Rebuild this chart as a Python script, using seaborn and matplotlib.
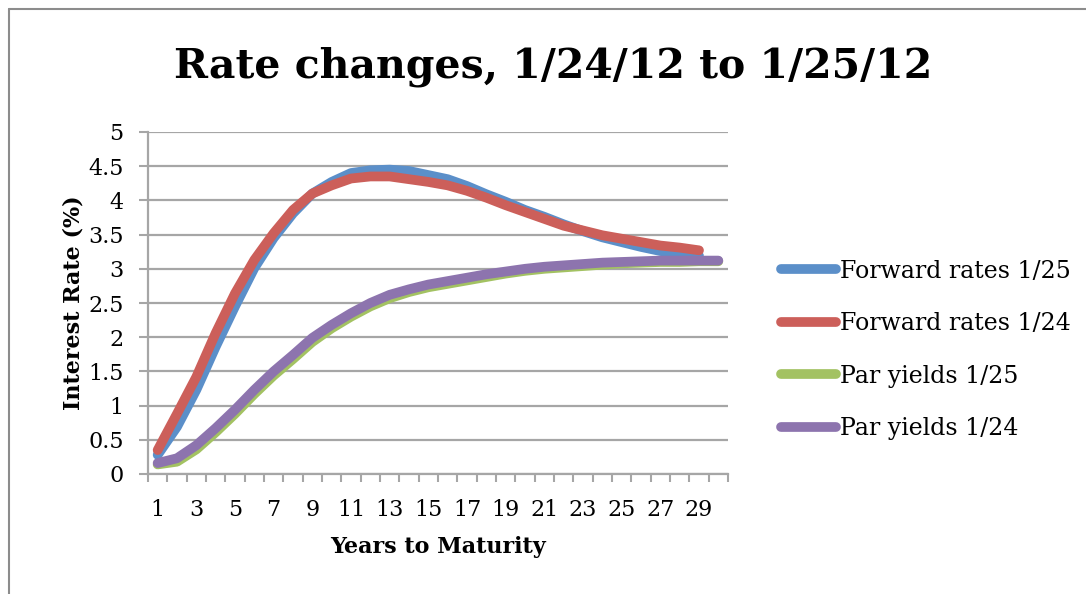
import numpy as np
import pandas as pd
import matplotlib
matplotlib.use("Agg")
import matplotlib.pyplot as plt
import seaborn as sns
from matplotlib.lines import Line2D

# values
years = list(range(1, 31))
fwd_0125 = [0.28, 0.69, 1.23, 1.86, 2.45, 3.01, 3.45, 3.81, 4.10, 4.27, 4.40, 4.44, 4.45, 4.43,
            4.37, 4.31, 4.21, 4.09, 3.98, 3.86, 3.76, 3.65, 3.55, 3.46, 3.39, 3.32, 3.26, 3.22, 3.19]
fwd_0124 = [0.35, 0.88, 1.42, 2.06, 2.64, 3.13, 3.52, 3.86, 4.10, 4.22, 4.32, 4.35, 4.35, 4.31,
            4.27, 4.22, 4.14, 4.04, 3.93, 3.83, 3.73, 3.63, 3.56, 3.49, 3.44, 3.39, 3.34, 3.31, 3.27]
par_0125 = [0.14, 0.18, 0.36, 0.61, 0.88, 1.17, 1.44, 1.68, 1.93, 2.13, 2.30, 2.45, 2.57, 2.66,
            2.73, 2.78, 2.83, 2.88, 2.93, 2.97, 3.00, 3.02, 3.04, 3.06, 3.08, 3.09, 3.10, 3.10, 3.11, 3.11]
par_0124 = [0.16, 0.23, 0.42, 0.67, 0.94, 1.23, 1.50, 1.74, 1.99, 2.18, 2.35, 2.50, 2.62, 2.70,
            2.77, 2.82, 2.87, 2.92, 2.96, 3.00, 3.03, 3.05, 3.07, 3.09, 3.10, 3.11, 3.12, 3.12, 3.12, 3.12]

series_names = ["Forward rates 1/25", "Forward rates 1/24", "Par yields 1/25", "Par yields 1/24"]
series_vals = [fwd_0125, fwd_0124, par_0125, par_0124]
colors = ["#5B8FC9", "#CC5F5A", "#A3C262", "#8D74AE"]

frames = []
for name, vals in zip(series_names, series_vals):
    frames.append(pd.DataFrame({"year": years[:len(vals)], "rate": vals, "series": name}))
df = pd.concat(frames, ignore_index=True)

sns.set_style("white")
plt.rcParams["font.family"] = ["DejaVu Serif"]
plt.rcParams["text.color"] = "black"
plt.rcParams["axes.labelcolor"] = "black"
plt.rcParams["xtick.labelcolor"] = "black"
plt.rcParams["ytick.labelcolor"] = "black"

fig = plt.figure(figsize=(10.86, 5.94), dpi=100)
ax = fig.add_axes([148 / 1086, 1 - 474 / 594, 580 / 1086, 342 / 594])

lw = 7
sns.lineplot(data=df, x="year", y="rate", hue="series", hue_order=series_names,
             palette=colors, linewidth=lw, ax=ax, legend=False)
for line in ax.get_lines():
    line.set_solid_capstyle("round")
    line.set_solid_joinstyle("round")

grid_col = "#A6A6A6"
ax.set_ylim(0, 5)
ax.set_yticks(np.arange(0, 5.01, 0.5))
ax.set_yticklabels(["0", "0.5", "1", "1.5", "2", "2.5", "3", "3.5", "4", "4.5", "5"])
ax.yaxis.grid(True, color=grid_col, linewidth=1.6)
ax.set_axisbelow(True)

ax.set_xlim(0.5, 30.5)
ax.set_xticks(range(1, 31, 2))
ax.set_xticklabels([str(i) for i in range(1, 31, 2)])
ax.set_xticks(np.arange(0.5, 30.6, 1), minor=True)
ax.tick_params(axis="x", which="major", length=0, pad=18, labelsize=16)
ax.tick_params(axis="x", which="minor", length=6, width=1.5, color=grid_col, direction="out")
ax.tick_params(axis="y", which="major", length=6.5, width=1.5, color=grid_col,
               direction="out", labelsize=16, pad=11)
ax.xaxis.set_ticks_position("bottom")
ax.yaxis.set_ticks_position("left")

for side in ["top", "right"]:
    ax.spines[side].set_visible(False)
for side in ["left", "bottom"]:
    ax.spines[side].set_color(grid_col)
    ax.spines[side].set_linewidth(1.6)

ax.set_xlabel("Years to Maturity", fontsize=16, fontweight="bold", labelpad=11)
ax.set_ylabel("Interest Rate (%)", fontsize=16, fontweight="bold", labelpad=3)

fig.text(553 / 1086, 1 - 67 / 594, "Rate changes, 1/24/12 to 1/25/12",
         ha="center", va="center", fontsize=29.5, fontweight="bold")

handles = [Line2D([], [], color=c, linewidth=lw, solid_capstyle="round") for c in colors]
leg = fig.legend(handles, series_names, loc="center left",
                 bbox_to_anchor=(760 / 1086, 1 - 350 / 594), frameon=False,
                 fontsize=17, handlelength=2.3, handletextpad=0.2, labelspacing=1.25)

# chart border (Excel chart area)
fig.add_artist(Line2D([9 / 1086, 1], [1 - 9 / 594, 1 - 9 / 594], color="#8C8C8C", linewidth=1.5))
fig.add_artist(Line2D([9 / 1086, 9 / 1086], [0, 1 - 9 / 594], color="#8C8C8C", linewidth=1.5))

fig.savefig("out.png", dpi=100, facecolor="white")
